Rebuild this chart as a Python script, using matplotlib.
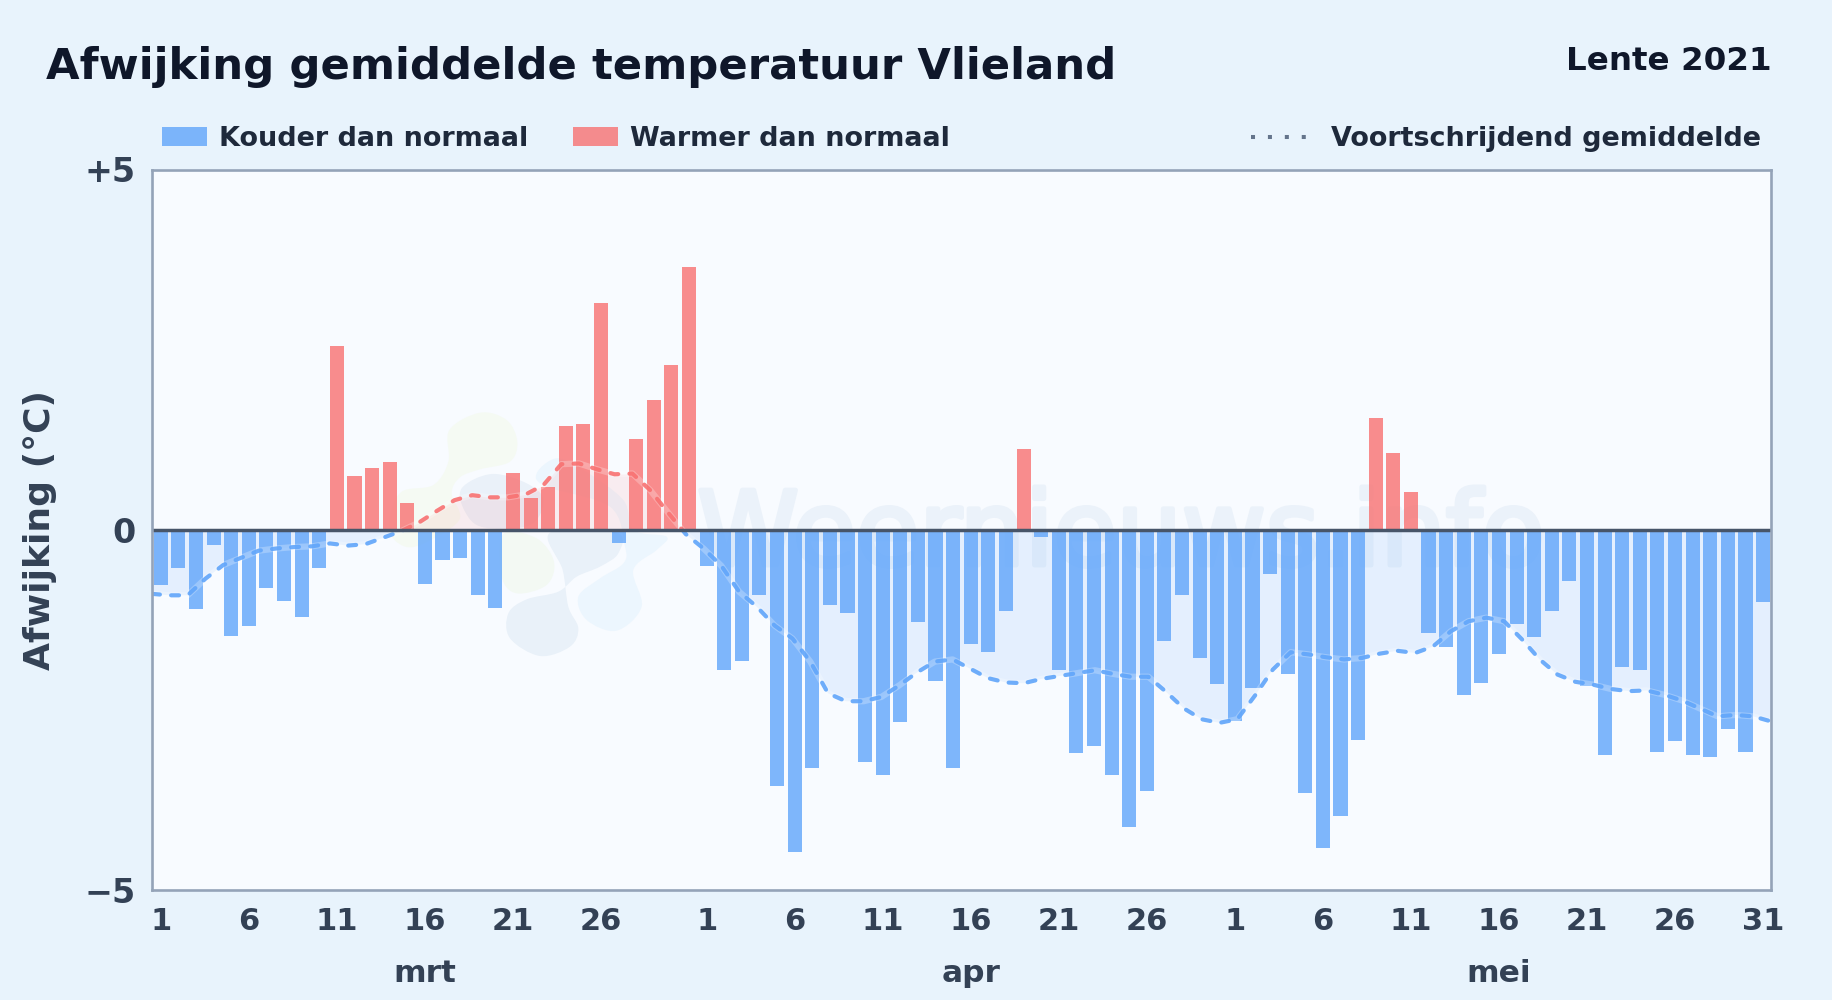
import numpy as np
import matplotlib
matplotlib.use("Agg")
import matplotlib.pyplot as plt
import matplotlib.patheffects as pe
from matplotlib.patches import Patch, PathPatch, Rectangle
from matplotlib.lines import Line2D
from matplotlib.path import Path
from matplotlib.transforms import Affine2D

W, H = 1832, 1000

# afwijking per dag (graden C), gelezen uit de grafiek
mrt = [-0.76, -0.53, -1.10, -0.21, -1.47, -1.33, -0.81, -0.99, -1.21, -0.53,
       2.55, 0.75, 0.86, 0.94, 0.37, -0.75, -0.42, -0.39, -0.91, -1.09,
       0.79, 0.44, 0.60, 1.44, 1.47, 3.15, -0.18, 1.26, 1.80, 2.29, 3.65]
apr = [-0.50, -1.95, -1.82, -0.90, -3.55, -4.47, -3.30, -1.05, -1.15, -3.23,
       -3.40, -2.67, -1.28, -2.10, -3.30, -1.58, -1.70, -1.13, 1.12, -0.10,
       -1.95, -3.10, -3.00, -3.40, -4.13, -3.63, -1.54, -0.90, -1.78, -2.14]
mei = [-2.66, -2.20, -0.62, -2.00, -3.66, -4.42, -3.97, -2.92, 1.55, 1.07,
       0.53, -1.43, -1.63, -2.30, -2.13, -1.73, -1.31, -1.49, -1.13, -0.71,
       -2.17, -3.12, -1.91, -1.94, -3.09, -2.93, -3.12, -3.15, -2.77, -3.09, -1.00]

# voortschrijdend gemiddelde
gem = [-0.89, -0.91, -0.91, -0.68, -0.49, -0.39, -0.29, -0.26, -0.24, -0.23,
       -0.19, -0.22, -0.20, -0.11, -0.02, 0.10, 0.26, 0.41, 0.48, 0.45,
       0.45, 0.49, 0.62, 0.91, 0.92, 0.84, 0.77, 0.78, 0.55, 0.24,
       -0.06, -0.26, -0.50, -0.86, -1.07, -1.33, -1.51, -1.83, -2.27, -2.38,
       -2.38, -2.32, -2.16, -1.98, -1.83, -1.80, -1.93, -2.06, -2.12, -2.13,
       -2.07, -2.03, -1.99, -1.95, -2.00, -2.04, -2.04, -2.25, -2.48, -2.63,
       -2.68, -2.63, -2.30, -1.94, -1.70, -1.73, -1.77, -1.80, -1.78, -1.72,
       -1.68, -1.71, -1.62, -1.41, -1.27, -1.22, -1.27, -1.52, -1.80, -2.01,
       -2.11, -2.15, -2.21, -2.24, -2.23, -2.29, -2.37, -2.48, -2.59, -2.57,
       -2.59, -2.66]

maanden = ["mrt", "apr", "mei"]
tick_dagen = [[1, 6, 11, 16, 21, 26], [1, 6, 11, 16, 21, 26], [1, 6, 11, 16, 21, 26, 31]]
yticks = [5, 0, -5]
ylabels = ["+5", "0", "\u22125"]

BLAUW = "#60a5fa"
ROOD = "#f87171"
BG = "#e8f3fc"

waarden = np.array(mrt + apr + mei)
gem = np.array(gem)
dagen = np.arange(len(waarden))
lengtes = [len(mrt), len(apr), len(mei)]

fig = plt.figure(figsize=(W / 100, H / 100), dpi=100, facecolor=BG)
plt.rcParams["font.family"] = "DejaVu Sans"
ax = fig.add_axes([152 / W, 1 - 890 / H, (1771 - 152) / W, (890 - 169.5) / H])
ax.set_facecolor("#f8fbff")

xmin, xmax = -0.5, 91.45
ax.set_xlim(xmin, xmax)
ax.set_ylim(-5, 5)


def blob(punten, kleur):
    # gesloten vloeiende vorm, punten in pixels van de zoom op het logo
    p = np.array(punten, dtype=float)
    p = np.column_stack([370 + p[:, 0] / 3, H - (390 + p[:, 1] / 3)])
    n = len(p)
    verts = [p[0]]
    codes = [Path.MOVETO]
    for i in range(n):
        p0, p1, p2, p3 = p[i - 1], p[i], p[(i + 1) % n], p[(i + 2) % n]
        verts += [p1 + (p2 - p0) / 6, p2 - (p3 - p1) / 6, p2]
        codes += [Path.CURVE4] * 3
    ax.add_patch(PathPatch(Path(verts, codes), fc=kleur, ec="none", zorder=1,
                           transform=Affine2D()))


# logo op de achtergrond
blob([(330, 68), (410, 90), (442, 155), (420, 215), (330, 238), (270, 262), (245, 310),
      (270, 385), (200, 440), (120, 472), (65, 440), (60, 380), (95, 305), (190, 285),
      (235, 215), (238, 120)], "#f5faf3")
blob([(400, 432), (500, 445), (552, 515), (530, 585), (440, 610), (395, 560)], "#f3f9f3")
blob([(365, 252), (470, 280), (520, 330), (480, 405), (340, 412), (285, 365), (275, 295)], "#eaf1f9")
blob([(540, 428), (740, 428), (745, 490), (690, 530), (620, 560), (565, 605), (470, 628),
      (415, 670), (420, 745), (510, 798), (600, 770), (625, 715), (595, 650), (578, 540)], "#e9f1f9")
blob([(560, 205), (640, 240), (760, 330), (790, 420), (890, 440), (860, 480), (790, 540),
      (815, 650), (740, 722), (650, 690), (625, 620), (690, 565), (760, 520), (765, 470),
      (720, 350), (530, 290), (500, 250)], "#ecf6fe")

wm = ax.text(1121, H - 565, "Weernieuws.info", color="#ebf2fa", fontsize=74, fontweight="normal",
             ha="center", va="baseline", zorder=1, transform=Affine2D())
wm.set_path_effects([pe.withStroke(linewidth=3.5, foreground="#ebf2fa")])

# gevuld vlak tussen gemiddelde en nullijn
xgem = np.linspace(xmin, xmax, len(gem))
ax.fill_between(xgem, gem, 0, where=gem <= 0, interpolate=True, color=BLAUW, alpha=0.13, lw=0, zorder=2)
ax.fill_between(xgem, gem, 0, where=gem >= 0, interpolate=True, color=ROOD, alpha=0.10, lw=0, zorder=2)

kleuren = [BLAUW if v < 0 else ROOD for v in waarden]
ax.bar(dagen, waarden, width=0.8, color=kleuren, alpha=0.8, lw=0, zorder=3)

# lichte rand onder de stippellijn
ax.plot(xgem, gem, color="white", lw=4.5, alpha=0.25, zorder=4)
for kleur, rect in [(BLAUW, (xmin, -5, xmax - xmin, 5)), (ROOD, (xmin, 0, xmax - xmin, 5))]:
    lijn, = ax.plot(xgem, gem, color=kleur, lw=3.0, alpha=0.9, zorder=4,
                    dashes=(1.9, 2.7), dash_capstyle="round", dash_joinstyle="round")
    lijn.set_clip_path(Rectangle(rect[:2], rect[2], rect[3], transform=ax.transData))

ax.axhline(0, color="#475569", lw=2.5, zorder=5)

for s in ax.spines.values():
    s.set_color("#94a3b8")
    s.set_linewidth(1.9)
    s.set_zorder(6)

# dagen per maand
start = np.cumsum([0] + lengtes[:-1])
xt, xl = [], []
for s, lijst in zip(start, tick_dagen):
    for d in lijst:
        xt.append(s + d - 1)
        xl.append(str(d))
ax.set_xticks(xt, xl)
ax.set_yticks(yticks, ylabels)
ax.tick_params(axis="x", length=0, labelsize=22, labelcolor="#334155", pad=12)
ax.tick_params(axis="y", length=0, labelsize=24, labelcolor="#334155", pad=12)
for lab in ax.get_xticklabels() + ax.get_yticklabels():
    lab.set_fontweight("bold")

for s, m in zip(start, maanden):
    ax.annotate(m, (s + 15, 0), xycoords=ax.get_xaxis_transform(), xytext=(0, -92),
                textcoords="offset pixels", ha="center", va="baseline",
                fontsize=22.5, fontweight="bold", color="#334155")

ax.set_ylabel("Afwijking (\u00b0C)", fontsize=26, fontweight="bold", color="#334155")
ax.yaxis.set_label_coords(-(152 - 57) / (1771 - 152), 0.5)

fig.text(46 / W, 1 - 79 / H, "Afwijking gemiddelde temperatuur Vlieland", fontsize=31.2,
         fontweight="bold", color="#0f172a", ha="left", va="baseline")
fig.text(1772 / W, 1 - 70 / H, "Lente 2021", fontsize=23.4, fontweight="bold", color="#0f172a",
         ha="right", va="baseline")

fig.legend(handles=[Patch(color=BLAUW, alpha=0.8, lw=0, label="Kouder dan normaal"),
                    Patch(color=ROOD, alpha=0.8, lw=0, label="Warmer dan normaal")],
           loc="center left", bbox_to_anchor=(162 / W, 1 - 139 / H), ncol=2, frameon=False,
           prop={"size": 19.45, "weight": "bold"}, labelcolor="#1e293b", borderpad=0, borderaxespad=0,
           handlelength=1.66, handleheight=0.75, handletextpad=0.45, columnspacing=1.66)
fig.legend(handles=[Line2D([], [], color="#64748b", lw=2.9, dashes=(1, 3.2), label="Voortschrijdend gemiddelde")],
           loc="center right", bbox_to_anchor=(1761 / W, 1 - 139 / H), frameon=False,
           prop={"size": 19.45, "weight": "bold"}, labelcolor="#1e293b", borderpad=0, borderaxespad=0,
           handlelength=2.1, handletextpad=0.85)

fig.savefig("out.png", dpi=100, facecolor=fig.get_facecolor())
